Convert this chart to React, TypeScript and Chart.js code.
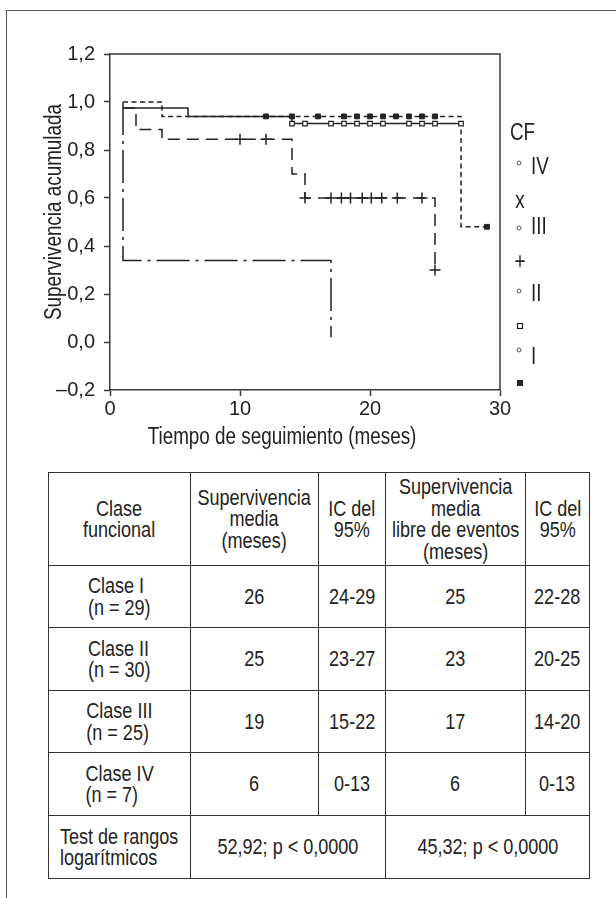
import React, { useEffect, useRef } from "react";
import { Chart, registerables } from "chart.js";

Chart.register(...registerables);

// ---------------- DATA ----------------
const xTickValues = [0, 10, 20, 30];
const yTickValues = [-0.2, 0, 0.2, 0.4, 0.6, 0.8, 1.0, 1.2];
const yTickLabels = ["–0,2", "0,0", "0,2", "0,4", "0,6", "0,8", "1,0", "1,2"];
const xAxisTitle = "Tiempo de seguimiento (meses)";
const yAxisTitle = "Supervivencia acumulada";

// Kaplan-Meier step curves (time in months, cumulative survival)
const classITimes = [1, 4, 27, 29];
const classISurv = [1.0, 0.94, 0.48, 0.48];
const classICensorTimes = [12, 14, 16, 18, 19, 20, 21, 22, 23, 24, 25, 29];
const classICensorSurv = [0.94, 0.94, 0.94, 0.94, 0.94, 0.94, 0.94, 0.94, 0.94, 0.94, 0.94, 0.48];

const classIITimes = [1, 6, 14, 27];
const classIISurv = [0.975, 0.94, 0.91, 0.91];
const classIICensorTimes = [14, 15, 17, 18, 19, 20, 21, 23, 24, 25, 27];
const classIICensorSurv = [0.91, 0.91, 0.91, 0.91, 0.91, 0.91, 0.91, 0.91, 0.91, 0.91, 0.91];

const classIIITimes = [1, 2, 4, 14, 15, 25];
const classIIISurv = [0.975, 0.885, 0.845, 0.7, 0.6, 0.3];
const classIIICensorTimes = [10, 12, 15, 17, 17.8, 18.5, 19.4, 20.1, 20.9, 22.1, 24, 25];
const classIIICensorSurv = [0.845, 0.845, 0.6, 0.6, 0.6, 0.6, 0.6, 0.6, 0.6, 0.6, 0.6, 0.3];

const classIVTimes = [1, 1, 17, 17];
const classIVSurv = [1.0, 0.34, 0.34, 0.02];

// Legend
const legendTitle = "CF";
const legendClasses = ["IV", "III", "II", "I"];
const legendMarkers = ["x", "+", "square", "filled"];

// Table
const tableHeaders = [
  ["Clase", "funcional"],
  ["Supervivencia", "media", "(meses)"],
  ["IC del", "95%"],
  ["Supervivencia", "media", "libre de eventos", "(meses)"],
  ["IC del", "95%"],
];
const tableClassNames = ["Clase I", "Clase II", "Clase III", "Clase IV"];
const tableClassN = ["(n = 29)", "(n = 30)", "(n = 25)", "(n = 7)"];
const tableMeanSurv = ["26", "25", "19", "6"];
const tableMeanCI = ["24-29", "23-27", "15-22", "0-13"];
const tableEventFree = ["25", "23", "17", "6"];
const tableEventFreeCI = ["22-28", "20-25", "14-20", "0-13"];
const logRankLabel = ["Test de rangos", "logarítmicos"];
const logRankSurv = "52,92; p < 0,0000";
const logRankEventFree = "45,32; p < 0,0000";

// ---------------- STYLE ----------------
const FONT = '"Liberation Sans", Arial, sans-serif';
const NARROW = 0.82;
const INK = "#232323";
const AXIS = "#3a3a3a";

const toPts = (xs: number[], ys: number[]) => xs.map((x, i) => ({ x, y: ys[i] }));

function narrowText(ctx: CanvasRenderingContext2D, text: string, x: number, y: number, align: CanvasTextAlign) {
  ctx.save();
  ctx.translate(x, y);
  ctx.scale(NARROW, 1);
  ctx.textAlign = align;
  ctx.fillText(text, 0, 0);
  ctx.restore();
}

const framePlugin = {
  id: "frameAndLegend",
  afterDraw(chart: any) {
    const { ctx, chartArea: a } = chart;
    ctx.save();
    // top + right frame
    ctx.strokeStyle = AXIS;
    ctx.lineWidth = 1.5;
    ctx.beginPath();
    ctx.moveTo(a.left, a.top);
    ctx.lineTo(a.right, a.top);
    ctx.lineTo(a.right, a.bottom);
    ctx.stroke();

    // axis titles
    ctx.fillStyle = INK;
    ctx.font = `23px ${FONT}`;
    ctx.textBaseline = "alphabetic";
    narrowText(ctx, xAxisTitle, a.left + 172, a.bottom + 54, "center");
    ctx.save();
    ctx.translate(a.left - 49, a.top + 158);
    ctx.rotate(-Math.PI / 2);
    ctx.scale(NARROW, 1);
    ctx.textAlign = "center";
    ctx.fillText(yAxisTitle, 0, 0);
    ctx.restore();

    // legend
    const lx = a.right + 10;
    ctx.textBaseline = "middle";
    narrowText(ctx, legendTitle, lx, a.top + 80, "left");
    const circleY = [109, 174, 237, 296];
    const labelY = [114, 174, 241, 304];
    const markerY = [148, 209, 272, 329];
    legendClasses.forEach((lab, i) => {
      ctx.strokeStyle = "#555";
      ctx.lineWidth = 1;
      ctx.beginPath();
      ctx.arc(lx + 9, a.top + circleY[i], 2, 0, Math.PI * 2);
      ctx.stroke();
      ctx.fillStyle = INK;
      narrowText(ctx, lab, lx + 21, a.top + labelY[i], "left");
      const m = legendMarkers[i];
      const my = a.top + markerY[i];
      if (m === "x" || m === "+") {
        narrowText(ctx, m, lx + 10, my, "center");
      } else if (m === "square") {
        ctx.strokeStyle = INK;
        ctx.lineWidth = 1.2;
        ctx.strokeRect(lx + 7.5, my - 2.5, 5, 5);
      } else {
        ctx.fillRect(lx + 7, my - 3, 6, 6);
      }
    });
    ctx.restore();
  },
};

function KMChart() {
  const ref = useRef<HTMLCanvasElement>(null);
  useEffect(() => {
    if (!ref.current) return;
    const lineBase = {
      type: "line" as const,
      stepped: true,
      pointRadius: 0,
      borderColor: INK,
      borderWidth: 1.5,
      fill: false,
      tension: 0,
    };
    const chart = new Chart(ref.current, {
      type: "line",
      data: {
        datasets: [
          {
            label: "I censurado",
            type: "scatter",
            data: toPts(classICensorTimes, classICensorSurv),
            pointStyle: "rect",
            pointRadius: 3.4,
            backgroundColor: INK,
            borderColor: INK,
            borderWidth: 1,
            showLine: false,
          },
          {
            label: "II censurado",
            type: "scatter",
            data: toPts(classIICensorTimes, classIICensorSurv),
            pointStyle: "rect",
            pointRadius: 3.2,
            backgroundColor: "#ffffff",
            borderColor: INK,
            borderWidth: 1.2,
            showLine: false,
          },
          {
            label: "III censurado",
            type: "scatter",
            data: toPts(classIIICensorTimes, classIIICensorSurv),
            pointStyle: "cross",
            pointRadius: 5.5,
            borderColor: INK,
            borderWidth: 1.5,
            showLine: false,
          },
          { ...lineBase, label: "I", data: toPts(classITimes, classISurv), borderDash: [5, 3.5] },
          { ...lineBase, label: "II", data: toPts(classIITimes, classIISurv) },
          { ...lineBase, label: "III", data: toPts(classIIITimes, classIIISurv), borderDash: [12, 7] },
          { ...lineBase, label: "IV", data: toPts(classIVTimes, classIVSurv), borderDash: [33, 6, 3, 6] },
        ],
      },
      options: {
        responsive: false,
        animation: false,
        events: [],
        layout: { padding: { top: 54, right: 116, bottom: 0, left: 0 } },
        plugins: { legend: { display: false }, tooltip: { enabled: false }, title: { display: false } },
        scales: {
          x: {
            type: "linear",
            min: 0,
            max: 30,
            afterFit: (s: any) => {
              s.height = 80;
            },
            afterBuildTicks: (s: any) => {
              s.ticks = xTickValues.map((v) => ({ value: v }));
            },
            ticks: {
              color: INK,
              padding: 0,
              font: { family: FONT, size: 20, lineHeight: 1.3 },
              maxRotation: 0,
              callback: (v: any) => String(v),
            },
            grid: { drawOnChartArea: false, drawTicks: true, tickLength: 6, tickColor: AXIS, tickWidth: 1.5 },
            border: { display: true, color: AXIS, width: 1.5 },
          },
          y: {
            type: "linear",
            min: -0.2,
            max: 1.2,
            afterFit: (s: any) => {
              s.width = 110;
            },
            afterBuildTicks: (s: any) => {
              s.ticks = yTickValues.map((v) => ({ value: v }));
            },
            ticks: {
              color: INK,
              padding: 9,
              font: { family: FONT, size: 20, lineHeight: 1.2 },
              callback: (v: any) => {
                const i = yTickValues.findIndex((t) => Math.abs(t - Number(v)) < 1e-6);
                return i >= 0 ? yTickLabels[i] : "";
              },
            },
            grid: { drawOnChartArea: false, drawTicks: true, tickLength: 6, tickColor: AXIS, tickWidth: 1.5 },
            border: { display: true, color: AXIS, width: 1.5 },
          },
        },
      },
      plugins: [framePlugin],
    } as any);
    return () => chart.destroy();
  }, []);
  return (
    <canvas
      ref={ref}
      width={616}
      height={470}
      style={{ position: "absolute", left: 0, top: 0, width: 616, height: 470 }}
    />
  );
}

const cellBorder = "1.5px solid #333";

// Condensed text block: lines scaled horizontally, centred in the cell.
function Narrow({ lines, left }: { lines: string[]; left?: boolean }) {
  return (
    <div style={{ display: "flex", justifyContent: "center", width: "100%" }}>
      <div
        style={{
          display: "flex",
          flexDirection: "column",
          alignItems: left ? "flex-start" : "center",
          whiteSpace: "nowrap",
          transform: `scaleX(${NARROW})`,
          transformOrigin: "center",
          flexShrink: 0,
        }}
      >
        {lines.map((l, i) => (
          <div key={i}>{l}</div>
        ))}
      </div>
    </div>
  );
}

function DataTable() {
  const td: React.CSSProperties = {
    border: cellBorder,
    textAlign: "center",
    verticalAlign: "middle",
    padding: 0,
    overflow: "visible",
  };
  const colW = [142, 128, 67, 140, 64];
  const rowH = [62, 63, 62, 63];
  return (
    <table
      style={{
        position: "absolute",
        left: 48,
        top: 472,
        width: 541,
        borderCollapse: "collapse",
        tableLayout: "fixed",
        fontFamily: FONT,
        fontSize: 22,
        lineHeight: "21.5px",
        color: INK,
      }}
    >
      <colgroup>
        {colW.map((w, i) => (
          <col key={i} style={{ width: w }} />
        ))}
      </colgroup>
      <tbody>
        <tr style={{ height: 93 }}>
          {tableHeaders.map((h, i) => (
            <td key={i} style={td}>
              <Narrow lines={h} />
            </td>
          ))}
        </tr>
        {tableClassNames.map((c, i) => (
          <tr key={c} style={{ height: rowH[i] }}>
            <td style={td}>
              <Narrow lines={[c, tableClassN[i]]} left />
            </td>
            <td style={td}>
              <Narrow lines={[tableMeanSurv[i]]} />
            </td>
            <td style={td}>
              <Narrow lines={[tableMeanCI[i]]} />
            </td>
            <td style={td}>
              <Narrow lines={[tableEventFree[i]]} />
            </td>
            <td style={td}>
              <Narrow lines={[tableEventFreeCI[i]]} />
            </td>
          </tr>
        ))}
        <tr style={{ height: 63 }}>
          <td style={td}>
            <Narrow lines={logRankLabel} left />
          </td>
          <td style={td} colSpan={2}>
            <Narrow lines={[logRankSurv]} />
          </td>
          <td style={td} colSpan={2}>
            <Narrow lines={[logRankEventFree]} />
          </td>
        </tr>
      </tbody>
    </table>
  );
}

export default function App() {
  return (
    <div
      style={{
        position: "absolute",
        left: 0,
        top: 0,
        width: 616,
        height: 898,
        overflow: "hidden",
        background: "#fff",
      }}
    >
      <div
        style={{
          position: "absolute",
          left: 6,
          top: 10,
          width: 640,
          height: 920,
          borderLeft: "1.5px solid #555",
          borderTop: "1.5px solid #555",
        }}
      />
      <KMChart />
      <DataTable />
    </div>
  );
}
